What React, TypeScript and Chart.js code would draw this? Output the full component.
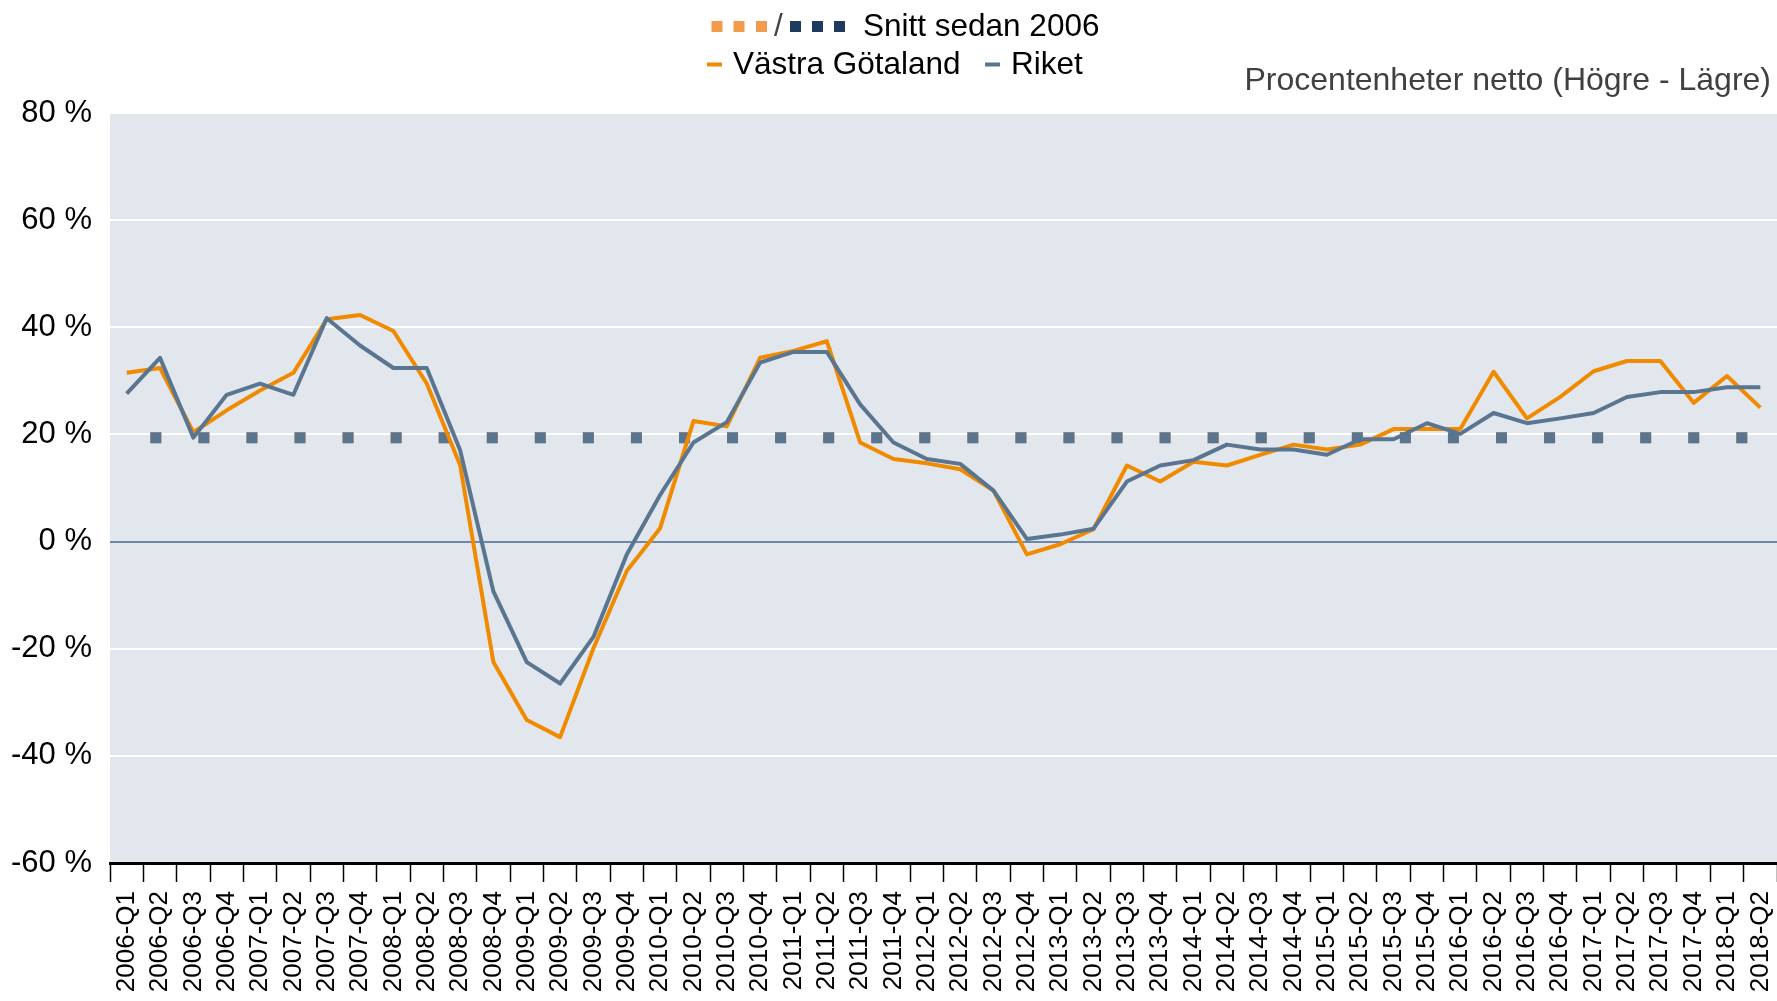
import React, { useEffect, useRef } from "react";
import { Chart, registerables } from "chart.js";

Chart.register(...registerables);

const categories: string[] = [
  "2006-Q1", "2006-Q2", "2006-Q3", "2006-Q4",
  "2007-Q1", "2007-Q2", "2007-Q3", "2007-Q4",
  "2008-Q1", "2008-Q2", "2008-Q3", "2008-Q4",
  "2009-Q1", "2009-Q2", "2009-Q3", "2009-Q4",
  "2010-Q1", "2010-Q2", "2010-Q3", "2010-Q4",
  "2011-Q1", "2011-Q2", "2011-Q3", "2011-Q4",
  "2012-Q1", "2012-Q2", "2012-Q3", "2012-Q4",
  "2013-Q1", "2013-Q2", "2013-Q3", "2013-Q4",
  "2014-Q1", "2014-Q2", "2014-Q3", "2014-Q4",
  "2015-Q1", "2015-Q2", "2015-Q3", "2015-Q4",
  "2016-Q1", "2016-Q2", "2016-Q3", "2016-Q4",
  "2017-Q1", "2017-Q2", "2017-Q3", "2017-Q4",
  "2018-Q1", "2018-Q2",
];

const vastraGotaland: number[] = [
  31.5, 32.4, 20.4, 24.5, 28.2, 31.5, 41.5, 42.3, 39.3, 29.5,
  14.3, -22.5, -33.3, -36.5, -19.9, -5.5, 2.5, 22.5, 21.5, 34.3,
  35.6, 37.4, 18.5, 15.4, 14.6, 13.5, 9.5, -2.4, -0.5, 2.3,
  14.2, 11.2, 14.9, 14.2, 16.2, 18.1, 17.2, 18.1, 21.0, 21.0,
  21.0, 31.7, 23.0, 27.0, 31.8, 33.7, 33.7, 25.9, 30.9, 25.0,
];

const riket: number[] = [
  27.6, 34.3, 19.4, 27.4, 29.5, 27.4, 41.7, 36.6, 32.4, 32.4,
  17.1, -9.3, -22.5, -26.5, -17.8, -2.4, 8.7, 18.5, 22.3, 33.4,
  35.4, 35.4, 25.6, 18.5, 15.4, 14.5, 9.5, 0.5, 1.3, 2.4,
  11.2, 14.2, 15.2, 18.1, 17.2, 17.2, 16.2, 19.1, 19.1, 22.1,
  20.1, 24.0, 22.1, 23.0, 24.0, 27.0, 27.9, 27.9, 28.8, 28.8,
];

const snittVG = 19.4;
const snittRiket = 19.4;

const yTicks: number[] = [-60, -40, -20, 0, 20, 40, 60, 80];

const FONT = "'Liberation Sans', Arial, Helvetica, sans-serif";
const ORANGE = "#F08A00";
const BLUE = "#5A7590";
const BG = "#E2E7EE";

const bgPlugin = {
  id: "plotBg",
  beforeDraw(chart: any) {
    const { ctx, chartArea } = chart;
    ctx.save();
    ctx.fillStyle = BG;
    ctx.fillRect(chartArea.left, chartArea.top, chartArea.right - chartArea.left, chartArea.bottom - chartArea.top);
    ctx.restore();
  },
};

const legendPlugin = {
  id: "customLegend",
  afterDraw(chart: any) {
    const ctx = chart.ctx as CanvasRenderingContext2D;
    ctx.save();
    ctx.font = `31.5px ${FONT}`;
    ctx.textBaseline = "alphabetic";
    // line 1
    ctx.fillStyle = "#F39A4C";
    [711.5, 733.5, 756].forEach((x) => ctx.fillRect(x, 21, 11, 11));
    ctx.fillStyle = "#1F3A5F";
    [790, 812, 834].forEach((x) => ctx.fillRect(x, 21, 11, 11));
    ctx.fillStyle = "#444";
    ctx.textAlign = "center";
    ctx.fillText("/", 778.5, 36);
    ctx.textAlign = "left";
    ctx.fillStyle = "#000";
    ctx.fillText("Snitt sedan 2006", 863, 36);
    // line 2
    ctx.fillStyle = ORANGE;
    ctx.fillRect(707, 62.5, 15, 4);
    ctx.fillStyle = "#000";
    ctx.fillText("Västra Götaland", 733, 74);
    ctx.fillStyle = BLUE;
    ctx.fillRect(985, 62.5, 15, 4);
    ctx.fillStyle = "#000";
    ctx.fillText("Riket", 1011, 74);
    // unit note
    ctx.font = `32px ${FONT}`;
    ctx.fillStyle = "#404040";
    ctx.textAlign = "right";
    ctx.fillText("Procentenheter netto (Högre - Lägre)", 1771, 90);
    ctx.restore();
  },
};

export default function App() {
  const ref = useRef<HTMLCanvasElement | null>(null);

  useEffect(() => {
    document.body.style.margin = "0";
    document.body.style.overflow = "hidden";
    if (!ref.current) return;
    const n = categories.length;
    const chart = new Chart(ref.current, {
      type: "line",
      data: {
        labels: categories,
        datasets: [
          {
            label: "Riket",
            data: riket,
            borderColor: BLUE,
            borderWidth: 4,
            pointRadius: 0,
            borderJoinStyle: "round",
            tension: 0,
          },
          {
            label: "Västra Götaland",
            data: vastraGotaland,
            borderColor: ORANGE,
            borderWidth: 4,
            pointRadius: 0,
            borderJoinStyle: "round",
            tension: 0,
          },
          {
            label: "Snitt Riket",
            data: new Array(n).fill(snittRiket),
            borderColor: BLUE,
            borderWidth: 11,
            borderDash: [11, 37.06],
            borderDashOffset: 24.4,
            borderCapStyle: "butt",
            pointRadius: 0,
          },
          {
            label: "Snitt Västra Götaland",
            data: new Array(n).fill(snittVG),
            borderColor: "#F39A4C",
            borderWidth: 11,
            borderDash: [11, 37.06],
            borderDashOffset: 24.4,
            borderCapStyle: "butt",
            pointRadius: 0,
          },
        ],
      },
      options: {
        animation: false,
        responsive: false,
        maintainAspectRatio: false,
        layout: { padding: { top: 113, right: 0, left: 0, bottom: 0 } },
        plugins: {
          legend: { display: false },
          tooltip: { enabled: false },
        },
        scales: {
          x: {
            type: "category",
            offset: true,
            grid: {
              offset: true,
              display: true,
              drawOnChartArea: false,
              drawTicks: true,
              tickLength: 19,
              tickColor: "#000",
              tickWidth: 1.5,
            },
            border: { display: true, color: "#000", width: 3 },
            ticks: {
              autoSkip: false,
              maxRotation: 90,
              minRotation: 90,
              padding: 9,
              color: "#000",
              font: { family: FONT, size: 26 },
            },
            afterFit(scale: any) {
              scale.height = 138;
              scale.paddingLeft = 0;
              scale.paddingRight = 0;
            },
          },
          y: {
            min: -60,
            max: 80,
            afterBuildTicks(scale: any) {
              scale.ticks = yTicks.map((v) => ({ value: v }));
            },
            ticks: {
              padding: 18,
              color: "#000",
              font: { family: FONT, size: 31 },
              callback: (v: any) => `${v} %`,
            },
            grid: {
              drawTicks: false,
              lineWidth: 2,
              color: (c: any) => (c.tick && c.tick.value === 0 ? "#6F87AB" : "#FFFFFF"),
            },
            border: { display: false },
            afterFit(scale: any) {
              scale.width = 110;
            },
          },
        },
      },
      plugins: [bgPlugin, legendPlugin],
    });
    return () => chart.destroy();
  }, []);

  return (
    <div style={{ position: "absolute", left: 0, top: 0, width: 1777, height: 1001, background: "#fff" }}>
      <canvas ref={ref} width={1777} height={1001} style={{ width: 1777, height: 1001, display: "block" }} />
    </div>
  );
}
